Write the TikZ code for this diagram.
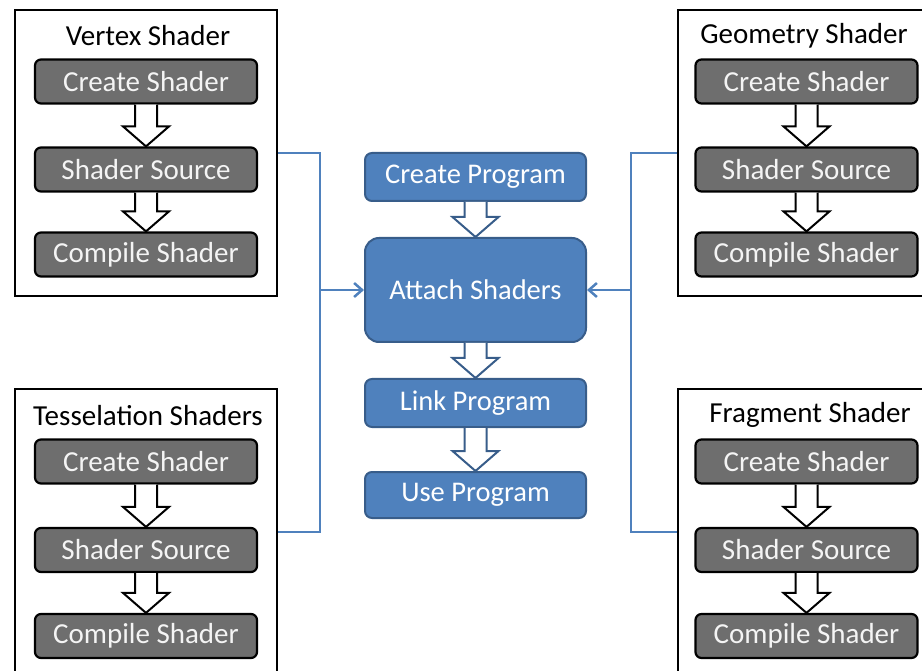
\documentclass[tikz,border=0pt]{standalone}
\usepackage{fontspec}
\setmainfont{Carlito}
\usetikzlibrary{calc,arrows.meta}
\definecolor{bfill}{HTML}{4F81BD}
\definecolor{bline}{HTML}{385D8A}
\definecolor{gfill}{HTML}{6E6E6E}
\definecolor{ltext}{HTML}{F4F4F4}
\tikzset{
  graybox/.style={draw=black, line width=2.2pt, fill=gfill, rounded corners=6pt, minimum width=222pt, minimum height=44pt, inner sep=0pt, text=ltext, font=\fontsize{29}{32}\selectfont},
  bluebox/.style={draw=bline, line width=2pt, fill=bfill, rounded corners=7pt, minimum width=221pt, inner sep=0pt, text=white, font=\fontsize{28.5}{32}\selectfont},
  container/.style={draw=black, line width=2pt, fill=white, inner sep=0pt},
  title/.style={font=\fontsize{29}{32}\selectfont, text=black, inner sep=0pt},
  conn/.style={draw=bfill, line width=2.5pt},
  garrow/.style={draw=black, line width=2pt, fill=white, line join=miter},
  barrowst/.style={draw=bline, line width=2pt, fill=white, line join=miter}
}
\newcommand\blockarrow[3]{%
  \draw[#3] ($(#1.south)+(-11,0)$) -- ($(#2.north)+(-11,-20)$) -- ($(#2.north)+(-23,-20)$) -- (#2.north) -- ($(#2.north)+(23,-20)$) -- ($(#2.north)+(11,-20)$) -- ($(#1.south)+(11,0)$);}
\begin{document}
\begin{tikzpicture}[x=1pt,y=-1pt]
\useasboundingbox (0,0) rectangle (922,671);
% containers
\node[container, minimum width=262pt, minimum height=286pt] (vs) at (146,153) {};
\node[container, minimum width=262pt, minimum height=286pt] (ts) at (146,532) {};
\node[container, minimum width=262pt, minimum height=286pt] (gs) at (809,153) {};
\node[container, minimum width=262pt, minimum height=286pt] (fs) at (809,532) {};
% titles
\node[title] (vst) at (148,36) {Vertex Shader};
\node[title] (tst) at (148,416) {Tesselation Shaders};
\node[title] (gst) at (804,36) {Geometry Shader};
\node[title] (fst) at (810,415) {Fragment Shader};
% vertex
\node[graybox] (v1) at (146,81.5) {Create Shader};
\node[graybox] (v2) at (146,169.5) {Shader Source};
\node[graybox] (v3) at (146,254.5) {Compile Shader};
% tesselation
\node[graybox] (t1) at (146,461.5) {Create Shader};
\node[graybox] (t2) at (146,550) {Shader Source};
\node[graybox] (t3) at (146,636) {Compile Shader};
% geometry
\node[graybox] (g1) at (806.5,81.5) {Create Shader};
\node[graybox] (g2) at (806.5,169.5) {Shader Source};
\node[graybox] (g3) at (806.5,254.5) {Compile Shader};
% fragment
\node[graybox] (f1) at (806.5,461.5) {Create Shader};
\node[graybox] (f2) at (806.5,550) {Shader Source};
\node[graybox] (f3) at (806.5,636) {Compile Shader};
% center
\node[bluebox, minimum height=48pt] (cp) at (475.5,177) {Create Program};
\node[bluebox, minimum height=104pt, rounded corners=14pt] (at) at (475.5,290) {Attach Shaders};
\node[bluebox, minimum height=48pt] (lp) at (475.5,403) {Link Program};
\node[bluebox, minimum height=46pt] (up) at (475.5,495) {Use Program};
% block arrows
\blockarrow{v1}{v2}{garrow}
\blockarrow{v2}{v3}{garrow}
\blockarrow{t1}{t2}{garrow}
\blockarrow{t2}{t3}{garrow}
\blockarrow{g1}{g2}{garrow}
\blockarrow{g2}{g3}{garrow}
\blockarrow{f1}{f2}{garrow}
\blockarrow{f2}{f3}{garrow}
\blockarrow{cp}{at}{barrowst}
\blockarrow{at}{lp}{barrowst}
\blockarrow{lp}{up}{barrowst}
% connectors
\coordinate (jl) at (320,290);
\coordinate (jr) at (631,290);
\draw[conn] (vs.east) -- (vs.east -| jl) -- (ts.east -| jl) -- (ts.east);
\draw[conn] (gs.west) -- (gs.west -| jr) -- (fs.west -| jr) -- (fs.west);
\draw[conn, -{Straight Barb[length=8pt,width=14pt]}] (jl) -- (at.west);
\draw[conn, -{Straight Barb[length=8pt,width=14pt]}] (jr) -- (at.east);
\end{tikzpicture}
\end{document}
